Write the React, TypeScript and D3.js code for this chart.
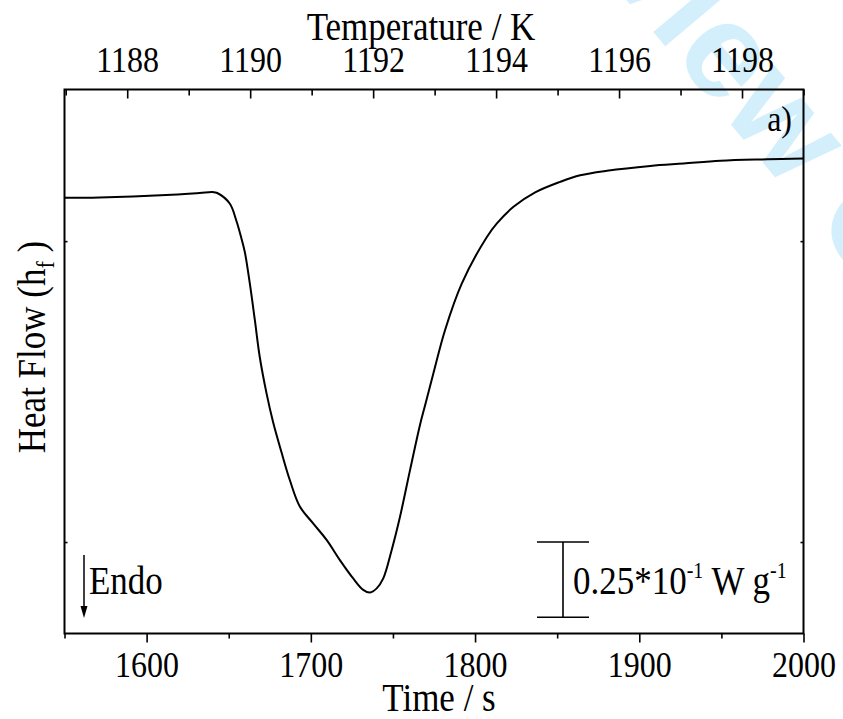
import { useEffect, useRef } from 'react'
import * as d3 from 'd3'

// time axis (s) and the measured heat flow (mW g^-1, endo down)
const timeS = [
  1550, 1571.3, 1612, 1632.3, 1640.4, 1643, 1650.6, 1654.7, 1657.7, 1659.8,
  1662.8, 1665.9, 1668.9, 1673, 1677, 1682.1, 1687.2, 1693.3, 1701.4, 1709.6,
  1717.7, 1725.8, 1731.9, 1736, 1740.1, 1744.1, 1749.2, 1754.3, 1760.4, 1766.5,
  1769.5, 1774.6, 1781.7, 1791.9, 1807.2, 1813.3, 1823.4, 1836.6, 1851.8, 1864,
  1880.3, 1906.7, 1927, 1949.4, 1977.9, 2000,
]
const heatFlow = [
  14.4, 14.5, 15.3, 16.0, 16.3, 16.0, 12.5, 6.7, 1.0, -3.6,
  -13.9, -26.2, -38.5, -50.5, -60.1, -70.1, -79.4, -88.2, -93.8, -99.3,
  -106.0, -112.1, -115.9, -116.8, -115.4, -112.1, -102.7, -91.6, -76.1, -61.0,
  -54.7, -44.0, -29.6, -14.1, 1.4, 5.9, 11.4, 16.2, 19.7, 21.9,
  23.4, 25.0, 25.8, 26.7, 27.2, 27.5,
]

const timeTicks = [1600, 1700, 1800, 1900, 2000]
const timeMinor = [1550, 1650, 1750, 1850, 1950]
const tempTicks = [1188, 1190, 1192, 1194, 1196, 1198]
const tempMinor = [1187, 1189, 1191, 1193, 1195, 1197, 1199]
const heatTicks = [0, -100]

// scale bar: 0.25*10^-1 W g^-1 = 25 mW g^-1
const scaleBarTop = -100
const scaleBarSize = 25

const W = 843
const H = 719
const font = '"Liberation Serif", "Times New Roman", serif'
const stretch = 1.12 // the source text is a bit taller than wide

export default function App() {
  const ref = useRef<SVGSVGElement | null>(null)

  useEffect(() => {
    const svg = d3.select(ref.current)
    svg.selectAll('*').remove()

    const left = 64.5
    const right = 803.5
    const top = 89.5
    const bottom = 633.5

    const x = d3.scaleLinear().domain([1550, 2000]).range([left, right])
    const xT = d3.scaleLinear().domain([1186.98, 1199.0]).range([left, right])
    const y = d3.scaleLinear().domain([-130.4, 50.4]).range([bottom, top])

    const label = (tx: number, ty: number, size: number, anchor = 'start', rot = 0) =>
      svg
        .append('text')
        .attr('transform', `translate(${tx},${ty}) rotate(${rot}) scale(1,${stretch})`)
        .attr('text-anchor', anchor)
        .attr('font-family', font)
        .attr('font-size', size)
        .attr('fill', '#000')

    // watermark behind everything
    svg
      .append('text')
      .attr('transform', 'translate(488,-165) rotate(50)')
      .attr('font-family', 'Liberation Sans, Arial, sans-serif')
      .attr('font-weight', 'bold')
      .attr('font-size', 135)
      .attr('fill', '#d3effc')
      .text('Review Only')

    // bottom axis, ticks outward
    svg
      .append('g')
      .attr('class', 'ax-bottom')
      .attr('transform', `translate(0,${bottom})`)
      .call(d3.axisBottom(x).tickValues(timeTicks).tickSize(9).tickPadding(12).tickFormat(d3.format('d')))
    svg
      .append('g')
      .attr('transform', `translate(0,${bottom})`)
      .call(d3.axisBottom(x).tickValues(timeMinor).tickSize(5).tickFormat(() => ''))

    // top axis, ticks inward
    svg
      .append('g')
      .attr('class', 'ax-top')
      .attr('transform', `translate(0,${top})`)
      .call(d3.axisTop(xT).tickValues(tempTicks).tickSize(-9).tickPadding(17).tickFormat(d3.format('d')))
    svg
      .append('g')
      .attr('transform', `translate(0,${top})`)
      .call(d3.axisTop(xT).tickValues(tempMinor).tickSize(-6).tickFormat(() => ''))

    // tiny y ticks on both sides
    svg.append('g').attr('transform', `translate(${left},0)`).call(d3.axisLeft(y).tickValues(heatTicks).tickSize(-3).tickFormat(() => ''))
    svg.append('g').attr('transform', `translate(${right},0)`).call(d3.axisRight(y).tickValues(heatTicks).tickSize(-3).tickFormat(() => ''))

    svg.selectAll('.domain').remove()
    svg.selectAll('.tick line').attr('stroke', '#000').attr('stroke-width', 1.6)
    svg
      .selectAll('.tick text')
      .attr('font-family', font)
      .attr('font-size', 32)
      .attr('fill', '#000')
      .attr('transform', `scale(1,${stretch})`)
    svg.selectAll('.ax-bottom .tick text').attr('y', 16.2)
    svg.selectAll('.ax-top .tick text').attr('y', -15.6)

    // frame
    svg
      .append('rect')
      .attr('x', left)
      .attr('y', top)
      .attr('width', right - left)
      .attr('height', bottom - top)
      .attr('fill', 'none')
      .attr('stroke', '#000')
      .attr('stroke-width', 2)

    // curve
    const pts = timeS.map((t, i) => [t, heatFlow[i]] as [number, number])
    const line = d3
      .line<[number, number]>()
      .x((d) => x(d[0]))
      .y((d) => y(d[1]))
      .curve(d3.curveCatmullRom.alpha(0.5))
    svg
      .append('path')
      .attr('d', line(pts)!)
      .attr('fill', 'none')
      .attr('stroke', '#000')
      .attr('stroke-width', 2)

    // axis titles
    label(421, 40, 35, 'middle').text('Temperature / K')
    label(439, 711, 35, 'middle').text('Time / s')

    const yl = svg
      .append('text')
      .attr('transform', `translate(45,347) rotate(-90) scale(1,${stretch})`)
      .attr('text-anchor', 'middle')
      .attr('font-family', font)
      .attr('font-size', 35)
    yl.append('tspan').text('Heat Flow (h')
    yl.append('tspan').attr('font-size', 22).attr('dy', 8).text('f')
    yl.append('tspan').attr('dy', -8).text(' )')

    // panel label
    label(792, 131, 32, 'end').text('a)')

    // Endo arrow
    svg
      .append('line')
      .attr('x1', 84)
      .attr('x2', 84)
      .attr('y1', 555)
      .attr('y2', 608)
      .attr('stroke', '#000')
      .attr('stroke-width', 1.5)
    svg
      .append('path')
      .attr('d', 'M80.5,606 L87.5,606 L84,618 Z')
      .attr('fill', '#000')
    label(89, 594, 35).text('Endo')

    // scale bar
    const sbx = 563
    const y1 = y(scaleBarTop)
    const y2 = y(scaleBarTop - scaleBarSize)
    const sb = svg.append('g').attr('stroke', '#000').attr('stroke-width', 1.6)
    sb.append('line').attr('x1', sbx).attr('x2', sbx).attr('y1', y1).attr('y2', y2)
    sb.append('line').attr('x1', sbx - 26).attr('x2', sbx + 26).attr('y1', y1).attr('y2', y1)
    sb.append('line').attr('x1', sbx - 26).attr('x2', sbx + 26).attr('y1', y2).attr('y2', y2)

    const st = label(573, 594, 35)
    st.append('tspan').text('0.25*10')
    st.append('tspan').attr('font-size', 20).attr('dy', -14).text('-1')
    st.append('tspan').attr('dy', 14).text(' W g')
    st.append('tspan').attr('font-size', 20).attr('dy', -14).text('-1')
  }, [])

  return (
    <svg
      ref={ref}
      width={W}
      height={H}
      style={{ position: 'absolute', left: 0, top: 0, background: '#fff' }}
    />
  )
}
